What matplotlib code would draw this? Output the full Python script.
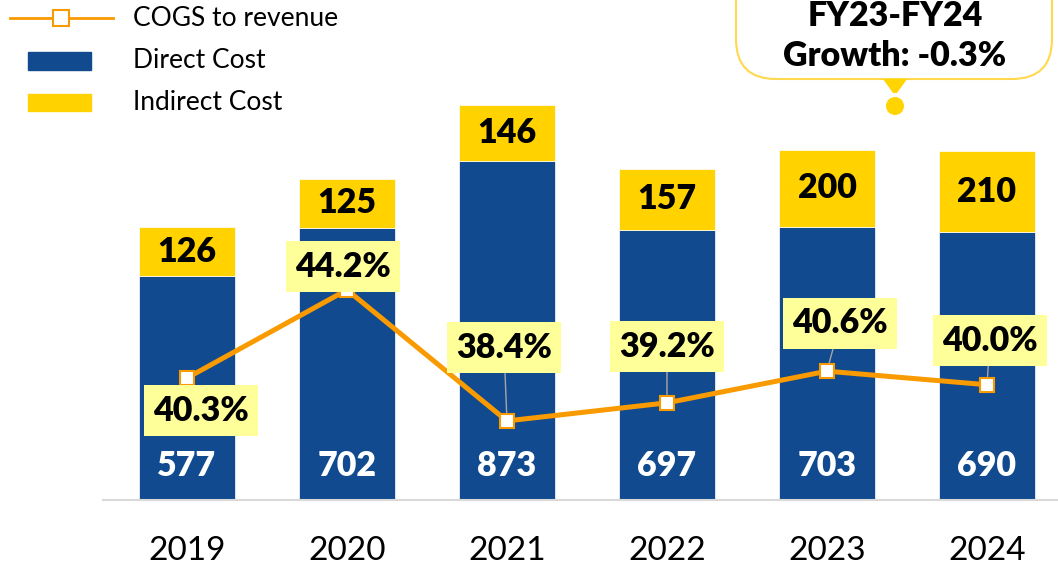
import matplotlib
matplotlib.use("Agg")
import matplotlib.pyplot as plt
from matplotlib.patches import Rectangle, FancyBboxPatch, Polygon, Circle
from matplotlib.lines import Line2D

plt.rcParams['font.family'] = ['Lato', 'DejaVu Sans']

# data
years = ["2019", "2020", "2021", "2022", "2023", "2024"]
direct_cost = [577, 702, 873, 697, 703, 690]
indirect_cost = [126, 125, 146, 157, 200, 210]
cogs_ratio = [40.3, 44.2, 38.4, 39.2, 40.6, 40.0]
# label box offsets from each marker, pixels (dx, dy)
ratio_offsets = [(14, -33), (-4, 23), (-3, 73), (0, 56), (13, 48), (3, 44)]
ratio_leader = [False, False, True, True, True, True]

BLUE = "#114A8E"
GOLD = "#FFD200"
ORANGE = "#F99B00"
LABEL_BG = "#FFFF99"
BIG = 24.5

W, H = 1058, 567
fig = plt.figure(figsize=(W / 100, H / 100), dpi=100)

# main axes: baseline at y=500px, top at y=100px, left at x=103px
ax = fig.add_axes([103 / W, (H - 500) / H, (W - 103) / W, 400 / H])
x = list(range(len(years)))
ax.bar(x, direct_cost, width=0.6, color=BLUE, edgecolor="white", linewidth=0.5, zorder=2)
ax.bar(x, indirect_cost, bottom=direct_cost, width=0.6, color=GOLD,
       edgecolor="white", linewidth=0.5, zorder=2)
ax.set_xlim(-0.525, 5.444)
ax.set_ylim(0, 1031)
ax.set_xticks(x, years, fontsize=24)
ax.tick_params(axis="x", length=0, pad=26)
ax.set_yticks([])
for s in ["top", "left", "right"]:
    ax.spines[s].set_visible(False)
ax.spines["bottom"].set_color("#D9D9D9")
ax.spines["bottom"].set_linewidth(1.5)

for i in x:
    ax.annotate(str(direct_cost[i]), xy=(i, 0), xytext=(0, 34), textcoords="offset pixels",
                ha="center", va="center", color="white", fontsize=BIG, fontweight="heavy", zorder=3)
    ax.text(i, direct_cost[i] + indirect_cost[i] / 2, str(indirect_cost[i]),
            ha="center", va="center", color="black", fontsize=BIG, fontweight="heavy", zorder=3)

# ratio line on secondary axis
ax2 = ax.twinx()
ax2.plot(x, cogs_ratio, color=ORANGE, lw=3.6, marker="s", ms=10, mfc="white",
         mec=ORANGE, mew=1.5, zorder=3)
ax2.set_ylim(34.9, 52.6)
ax2.set_yticks([])
for s in ax2.spines.values():
    s.set_visible(False)

for i in x:
    dx, dy = ratio_offsets[i]
    arrow = dict(arrowstyle="-", color="#A6A6A6", lw=1, shrinkA=0, shrinkB=6) if ratio_leader[i] else None
    ax2.annotate(f"{cogs_ratio[i]:.1f}%", xy=(i, cogs_ratio[i]), xytext=(dx, dy),
                 textcoords="offset pixels", ha="center", va="center",
                 fontsize=BIG, fontweight="heavy", zorder=5,
                 bbox=dict(boxstyle="square,pad=0.28", fc=LABEL_BG, ec="none"),
                 arrowprops=arrow)

# overlay in pixel coordinates for legend and callout
ov = fig.add_axes([0, 0, 1, 1], zorder=10)
ov.set_xlim(0, W)
ov.set_ylim(H, 0)
ov.axis("off")
ov.patch.set_alpha(0)

ov.add_line(Line2D([10, 113], [18, 18], color=ORANGE, lw=2))
ov.add_line(Line2D([61], [18], marker="s", ms=12, mfc="white", mec=ORANGE, mew=1.5))
ov.add_patch(Rectangle((28, 52), 63, 18, color=BLUE))
ov.add_patch(Rectangle((28, 94), 63, 17, color=GOLD))
for ty, lab in zip([18, 61, 103], ["COGS to revenue", "Direct Cost", "Indirect Cost"]):
    ov.text(133, ty, lab, fontsize=19, va="center", ha="left")

# growth callout
ov.add_patch(FancyBboxPatch((736, -40), 316, 119, boxstyle="round,pad=0,rounding_size=40",
                            fc="white", ec="#FFD84D", lw=1.5))
ov.add_patch(Polygon([(883, 79), (907, 79), (897, 93), (893, 93)], closed=True,
                     fc="#FFD400", ec="none"))
ov.add_patch(Circle((895, 106), 9, fc="#FFD400", ec="none"))
ov.text(895, 16, "FY23-FY24", fontsize=BIG, fontweight="heavy", ha="center", va="center")
ov.text(895, 56, "Growth: -0.3%", fontsize=BIG, fontweight="heavy", ha="center", va="center")

fig.savefig("out.png", dpi=100)
